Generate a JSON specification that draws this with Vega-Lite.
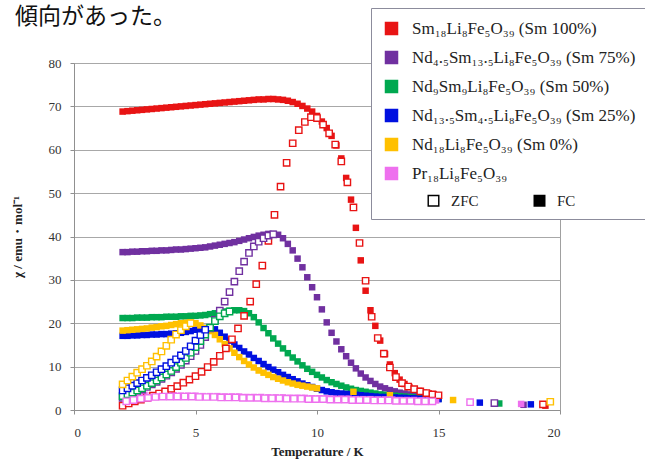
{
"$schema":"https://vega.github.io/schema/vega-lite/v6.json",
"width":486,"height":347,
"autosize":{"type":"none"},
"padding":{"left":74,"top":63,"right":85,"bottom":58},
"background":"white",
"title":{"text":"傾向があった。","font":"Noto Sans CJK JP","fontSize":23,"fontWeight":"normal","color":"#111","anchor":"start","frame":"group","dx":-59,"offset":20,"dy":41},
"config":{"view":{"stroke":"#a0a0a0"},"axis":{"labelFont":"Liberation Serif","labelFontSize":13,"labelColor":"#333","titleFont":"Liberation Serif","titleFontWeight":"bold","titleColor":"#222","domainColor":"#909090","tickColor":"#909090","tickSize":4}},
"data":{"values":[
{"s":"A","m":"ZFC","t":2,"v":1.0},{"s":"A","m":"ZFC","t":2.25,"v":1.5},{"s":"A","m":"ZFC","t":2.5,"v":2.0},{"s":"A","m":"ZFC","t":2.75,"v":2.4},{"s":"A","m":"ZFC","t":3,"v":2.8},{"s":"A","m":"ZFC","t":3.25,"v":3.3},{"s":"A","m":"ZFC","t":3.5,"v":3.8},{"s":"A","m":"ZFC","t":3.75,"v":4.3},{"s":"A","m":"ZFC","t":4,"v":4.9},{"s":"A","m":"ZFC","t":4.25,"v":5.5},{"s":"A","m":"ZFC","t":4.5,"v":6.3},{"s":"A","m":"ZFC","t":4.75,"v":7.0},{"s":"A","m":"ZFC","t":5,"v":7.8},{"s":"A","m":"ZFC","t":5.25,"v":8.8},{"s":"A","m":"ZFC","t":5.5,"v":9.9},{"s":"A","m":"ZFC","t":5.75,"v":11.1},{"s":"A","m":"ZFC","t":6,"v":12.5},{"s":"A","m":"ZFC","t":6.25,"v":14.2},{"s":"A","m":"ZFC","t":6.5,"v":16.3},{"s":"A","m":"ZFC","t":6.75,"v":18.8},{"s":"A","m":"ZFC","t":7,"v":21.7},{"s":"A","m":"ZFC","t":7.25,"v":25.0},{"s":"A","m":"ZFC","t":7.5,"v":29.0},{"s":"A","m":"ZFC","t":7.75,"v":33.3},{"s":"A","m":"ZFC","t":8,"v":39.0},{"s":"A","m":"ZFC","t":8.25,"v":45.0},{"s":"A","m":"ZFC","t":8.5,"v":51.5},{"s":"A","m":"ZFC","t":8.75,"v":57.0},{"s":"A","m":"ZFC","t":9,"v":61.5},{"s":"A","m":"ZFC","t":9.25,"v":64.5},{"s":"A","m":"ZFC","t":9.5,"v":66.4},{"s":"A","m":"ZFC","t":9.75,"v":67.5},{"s":"A","m":"ZFC","t":10,"v":67.3},{"s":"A","m":"ZFC","t":10.25,"v":65.8},{"s":"A","m":"ZFC","t":10.5,"v":63.8},{"s":"A","m":"ZFC","t":10.75,"v":61.2},{"s":"A","m":"ZFC","t":11,"v":57.3},{"s":"A","m":"ZFC","t":11.25,"v":52.5},{"s":"A","m":"ZFC","t":11.5,"v":46.7},{"s":"A","m":"ZFC","t":11.75,"v":38.5},{"s":"A","m":"ZFC","t":12,"v":29.8},{"s":"A","m":"ZFC","t":12.25,"v":21.5},{"s":"A","m":"ZFC","t":12.5,"v":16.6},{"s":"A","m":"ZFC","t":12.75,"v":13.0},{"s":"A","m":"ZFC","t":13,"v":9.8},{"s":"A","m":"ZFC","t":13.25,"v":7.6},{"s":"A","m":"ZFC","t":13.5,"v":6.2},{"s":"A","m":"ZFC","t":13.75,"v":5.4},{"s":"A","m":"ZFC","t":14,"v":4.8},{"s":"A","m":"ZFC","t":14.25,"v":4.3},{"s":"A","m":"ZFC","t":14.5,"v":3.9},{"s":"A","m":"ZFC","t":14.75,"v":3.6},{"s":"A","m":"ZFC","t":15,"v":3.4},{"s":"A","m":"ZFC","t":19.3,"v":1.3},
{"s":"A","m":"FC","t":2,"v":68.8},{"s":"A","m":"FC","t":2.2,"v":68.9},{"s":"A","m":"FC","t":2.4,"v":69.0},{"s":"A","m":"FC","t":2.6,"v":69.1},{"s":"A","m":"FC","t":2.8,"v":69.2},{"s":"A","m":"FC","t":3,"v":69.3},{"s":"A","m":"FC","t":3.2,"v":69.4},{"s":"A","m":"FC","t":3.4,"v":69.5},{"s":"A","m":"FC","t":3.6,"v":69.6},{"s":"A","m":"FC","t":3.8,"v":69.7},{"s":"A","m":"FC","t":4,"v":69.8},{"s":"A","m":"FC","t":4.2,"v":69.9},{"s":"A","m":"FC","t":4.4,"v":70.0},{"s":"A","m":"FC","t":4.6,"v":70.1},{"s":"A","m":"FC","t":4.8,"v":70.2},{"s":"A","m":"FC","t":5,"v":70.3},{"s":"A","m":"FC","t":5.2,"v":70.4},{"s":"A","m":"FC","t":5.4,"v":70.5},{"s":"A","m":"FC","t":5.6,"v":70.6},{"s":"A","m":"FC","t":5.8,"v":70.7},{"s":"A","m":"FC","t":6,"v":70.8},{"s":"A","m":"FC","t":6.2,"v":70.9},{"s":"A","m":"FC","t":6.4,"v":71.0},{"s":"A","m":"FC","t":6.6,"v":71.1},{"s":"A","m":"FC","t":6.8,"v":71.2},{"s":"A","m":"FC","t":7,"v":71.3},{"s":"A","m":"FC","t":7.2,"v":71.4},{"s":"A","m":"FC","t":7.4,"v":71.5},{"s":"A","m":"FC","t":7.6,"v":71.6},{"s":"A","m":"FC","t":7.8,"v":71.6},{"s":"A","m":"FC","t":8,"v":71.7},{"s":"A","m":"FC","t":8.2,"v":71.7},{"s":"A","m":"FC","t":8.4,"v":71.6},{"s":"A","m":"FC","t":8.6,"v":71.5},{"s":"A","m":"FC","t":8.8,"v":71.3},{"s":"A","m":"FC","t":9,"v":71.0},{"s":"A","m":"FC","t":9.2,"v":70.6},{"s":"A","m":"FC","t":9.4,"v":70.1},{"s":"A","m":"FC","t":9.6,"v":69.5},{"s":"A","m":"FC","t":9.8,"v":68.8},{"s":"A","m":"FC","t":10,"v":67.8},{"s":"A","m":"FC","t":10.2,"v":66.5},{"s":"A","m":"FC","t":10.4,"v":65.0},{"s":"A","m":"FC","t":10.6,"v":63.2},{"s":"A","m":"FC","t":10.8,"v":61.0},{"s":"A","m":"FC","t":11,"v":58.0},{"s":"A","m":"FC","t":11.2,"v":53.5},{"s":"A","m":"FC","t":11.4,"v":48.5},{"s":"A","m":"FC","t":11.6,"v":42.0},{"s":"A","m":"FC","t":11.8,"v":34.5},{"s":"A","m":"FC","t":12,"v":27.5},{"s":"A","m":"FC","t":12.2,"v":23.0},{"s":"A","m":"FC","t":12.4,"v":19.4},{"s":"A","m":"FC","t":12.6,"v":16.0},{"s":"A","m":"FC","t":12.8,"v":12.9},{"s":"A","m":"FC","t":13,"v":10.5},{"s":"A","m":"FC","t":13.2,"v":8.5},{"s":"A","m":"FC","t":13.4,"v":7.0},{"s":"A","m":"FC","t":13.6,"v":6.0},{"s":"A","m":"FC","t":13.8,"v":5.3},{"s":"A","m":"FC","t":14,"v":4.8},{"s":"A","m":"FC","t":14.2,"v":4.4},{"s":"A","m":"FC","t":14.4,"v":4.0},{"s":"A","m":"FC","t":14.6,"v":3.8},{"s":"A","m":"FC","t":14.8,"v":3.6},{"s":"A","m":"FC","t":15,"v":3.4},{"s":"A","m":"FC","t":19.4,"v":1.0},
{"s":"B","m":"ZFC","t":2,"v":2.8},{"s":"B","m":"ZFC","t":2.2,"v":3.2},{"s":"B","m":"ZFC","t":2.4,"v":3.7},{"s":"B","m":"ZFC","t":2.6,"v":4.2},{"s":"B","m":"ZFC","t":2.8,"v":4.7},{"s":"B","m":"ZFC","t":3,"v":5.3},{"s":"B","m":"ZFC","t":3.2,"v":5.9},{"s":"B","m":"ZFC","t":3.4,"v":6.5},{"s":"B","m":"ZFC","t":3.6,"v":7.2},{"s":"B","m":"ZFC","t":3.8,"v":7.9},{"s":"B","m":"ZFC","t":4,"v":8.7},{"s":"B","m":"ZFC","t":4.2,"v":9.5},{"s":"B","m":"ZFC","t":4.4,"v":10.4},{"s":"B","m":"ZFC","t":4.6,"v":11.4},{"s":"B","m":"ZFC","t":4.8,"v":12.4},{"s":"B","m":"ZFC","t":5,"v":13.6},{"s":"B","m":"ZFC","t":5.2,"v":15.0},{"s":"B","m":"ZFC","t":5.4,"v":16.8},{"s":"B","m":"ZFC","t":5.6,"v":18.8},{"s":"B","m":"ZFC","t":5.8,"v":20.8},{"s":"B","m":"ZFC","t":6,"v":22.9},{"s":"B","m":"ZFC","t":6.2,"v":25.0},{"s":"B","m":"ZFC","t":6.4,"v":27.2},{"s":"B","m":"ZFC","t":6.6,"v":29.6},{"s":"B","m":"ZFC","t":6.8,"v":32.0},{"s":"B","m":"ZFC","t":7,"v":34.2},{"s":"B","m":"ZFC","t":7.2,"v":36.2},{"s":"B","m":"ZFC","t":7.4,"v":37.7},{"s":"B","m":"ZFC","t":7.6,"v":38.8},{"s":"B","m":"ZFC","t":7.8,"v":39.6},{"s":"B","m":"ZFC","t":8,"v":40.2},{"s":"B","m":"ZFC","t":8.2,"v":40.5},{"s":"B","m":"ZFC","t":17.3,"v":1.6},
{"s":"B","m":"FC","t":2,"v":36.4},{"s":"B","m":"FC","t":2.2,"v":36.4},{"s":"B","m":"FC","t":2.4,"v":36.5},{"s":"B","m":"FC","t":2.6,"v":36.5},{"s":"B","m":"FC","t":2.8,"v":36.6},{"s":"B","m":"FC","t":3,"v":36.6},{"s":"B","m":"FC","t":3.2,"v":36.7},{"s":"B","m":"FC","t":3.4,"v":36.7},{"s":"B","m":"FC","t":3.6,"v":36.8},{"s":"B","m":"FC","t":3.8,"v":36.8},{"s":"B","m":"FC","t":4,"v":36.9},{"s":"B","m":"FC","t":4.2,"v":37.0},{"s":"B","m":"FC","t":4.4,"v":37.0},{"s":"B","m":"FC","t":4.6,"v":37.1},{"s":"B","m":"FC","t":4.8,"v":37.2},{"s":"B","m":"FC","t":5,"v":37.3},{"s":"B","m":"FC","t":5.2,"v":37.4},{"s":"B","m":"FC","t":5.4,"v":37.5},{"s":"B","m":"FC","t":5.6,"v":37.7},{"s":"B","m":"FC","t":5.8,"v":37.9},{"s":"B","m":"FC","t":6,"v":38.1},{"s":"B","m":"FC","t":6.2,"v":38.3},{"s":"B","m":"FC","t":6.4,"v":38.5},{"s":"B","m":"FC","t":6.6,"v":38.7},{"s":"B","m":"FC","t":6.8,"v":39.0},{"s":"B","m":"FC","t":7,"v":39.3},{"s":"B","m":"FC","t":7.2,"v":39.6},{"s":"B","m":"FC","t":7.4,"v":39.9},{"s":"B","m":"FC","t":7.6,"v":40.2},{"s":"B","m":"FC","t":7.8,"v":40.4},{"s":"B","m":"FC","t":8,"v":40.6},{"s":"B","m":"FC","t":8.2,"v":40.6},{"s":"B","m":"FC","t":8.4,"v":40.4},{"s":"B","m":"FC","t":8.6,"v":39.6},{"s":"B","m":"FC","t":8.8,"v":38.3},{"s":"B","m":"FC","t":9,"v":36.8},{"s":"B","m":"FC","t":9.2,"v":34.9},{"s":"B","m":"FC","t":9.4,"v":32.9},{"s":"B","m":"FC","t":9.6,"v":30.6},{"s":"B","m":"FC","t":9.8,"v":28.3},{"s":"B","m":"FC","t":10,"v":26.0},{"s":"B","m":"FC","t":10.2,"v":23.2},{"s":"B","m":"FC","t":10.4,"v":20.2},{"s":"B","m":"FC","t":10.6,"v":17.8},{"s":"B","m":"FC","t":10.8,"v":15.8},{"s":"B","m":"FC","t":11,"v":14.0},{"s":"B","m":"FC","t":11.2,"v":12.4},{"s":"B","m":"FC","t":11.4,"v":10.9},{"s":"B","m":"FC","t":11.6,"v":9.6},{"s":"B","m":"FC","t":11.8,"v":8.4},{"s":"B","m":"FC","t":12,"v":7.5},{"s":"B","m":"FC","t":12.2,"v":6.7},{"s":"B","m":"FC","t":12.4,"v":6.0},{"s":"B","m":"FC","t":12.6,"v":5.4},{"s":"B","m":"FC","t":12.8,"v":5.0},{"s":"B","m":"FC","t":13,"v":4.6},{"s":"B","m":"FC","t":13.2,"v":4.3},{"s":"B","m":"FC","t":13.4,"v":4.0},{"s":"B","m":"FC","t":13.6,"v":3.8},{"s":"B","m":"FC","t":13.8,"v":3.6},{"s":"B","m":"FC","t":14,"v":3.4},{"s":"B","m":"FC","t":14.2,"v":3.3},{"s":"B","m":"FC","t":14.4,"v":3.2},{"s":"B","m":"FC","t":14.6,"v":3.1},{"s":"B","m":"FC","t":14.8,"v":3.0},{"s":"B","m":"FC","t":15,"v":2.9},{"s":"B","m":"FC","t":18.5,"v":1.2},
{"s":"C","m":"ZFC","t":2,"v":3.2},{"s":"C","m":"ZFC","t":2.2,"v":3.6},{"s":"C","m":"ZFC","t":2.4,"v":4.0},{"s":"C","m":"ZFC","t":2.6,"v":4.5},{"s":"C","m":"ZFC","t":2.8,"v":5.0},{"s":"C","m":"ZFC","t":3,"v":5.6},{"s":"C","m":"ZFC","t":3.2,"v":6.2},{"s":"C","m":"ZFC","t":3.4,"v":6.8},{"s":"C","m":"ZFC","t":3.6,"v":7.5},{"s":"C","m":"ZFC","t":3.8,"v":8.2},{"s":"C","m":"ZFC","t":4,"v":9.0},{"s":"C","m":"ZFC","t":4.2,"v":9.9},{"s":"C","m":"ZFC","t":4.4,"v":10.9},{"s":"C","m":"ZFC","t":4.6,"v":12.0},{"s":"C","m":"ZFC","t":4.8,"v":13.2},{"s":"C","m":"ZFC","t":5,"v":14.5},{"s":"C","m":"ZFC","t":5.2,"v":15.9},{"s":"C","m":"ZFC","t":5.4,"v":17.4},{"s":"C","m":"ZFC","t":5.6,"v":19.0},{"s":"C","m":"ZFC","t":5.8,"v":20.5},{"s":"C","m":"ZFC","t":6,"v":21.6},{"s":"C","m":"ZFC","t":6.2,"v":22.3},{"s":"C","m":"ZFC","t":6.4,"v":22.7},
{"s":"C","m":"FC","t":2,"v":21.2},{"s":"C","m":"FC","t":2.2,"v":21.2},{"s":"C","m":"FC","t":2.4,"v":21.2},{"s":"C","m":"FC","t":2.6,"v":21.3},{"s":"C","m":"FC","t":2.8,"v":21.3},{"s":"C","m":"FC","t":3,"v":21.3},{"s":"C","m":"FC","t":3.2,"v":21.4},{"s":"C","m":"FC","t":3.4,"v":21.4},{"s":"C","m":"FC","t":3.6,"v":21.4},{"s":"C","m":"FC","t":3.8,"v":21.5},{"s":"C","m":"FC","t":4,"v":21.5},{"s":"C","m":"FC","t":4.2,"v":21.5},{"s":"C","m":"FC","t":4.4,"v":21.6},{"s":"C","m":"FC","t":4.6,"v":21.6},{"s":"C","m":"FC","t":4.8,"v":21.7},{"s":"C","m":"FC","t":5,"v":21.7},{"s":"C","m":"FC","t":5.2,"v":21.8},{"s":"C","m":"FC","t":5.4,"v":21.9},{"s":"C","m":"FC","t":5.6,"v":22.1},{"s":"C","m":"FC","t":5.8,"v":22.3},{"s":"C","m":"FC","t":6,"v":22.5},{"s":"C","m":"FC","t":6.2,"v":22.7},{"s":"C","m":"FC","t":6.4,"v":22.9},{"s":"C","m":"FC","t":6.6,"v":23.0},{"s":"C","m":"FC","t":6.8,"v":23.0},{"s":"C","m":"FC","t":7,"v":22.8},{"s":"C","m":"FC","t":7.2,"v":22.3},{"s":"C","m":"FC","t":7.4,"v":21.4},{"s":"C","m":"FC","t":7.6,"v":20.2},{"s":"C","m":"FC","t":7.8,"v":18.9},{"s":"C","m":"FC","t":8,"v":17.7},{"s":"C","m":"FC","t":8.2,"v":16.5},{"s":"C","m":"FC","t":8.4,"v":15.3},{"s":"C","m":"FC","t":8.6,"v":14.2},{"s":"C","m":"FC","t":8.8,"v":13.1},{"s":"C","m":"FC","t":9,"v":12.1},{"s":"C","m":"FC","t":9.2,"v":11.2},{"s":"C","m":"FC","t":9.4,"v":10.3},{"s":"C","m":"FC","t":9.6,"v":9.5},{"s":"C","m":"FC","t":9.8,"v":8.8},{"s":"C","m":"FC","t":10,"v":8.1},{"s":"C","m":"FC","t":10.2,"v":7.5},{"s":"C","m":"FC","t":10.4,"v":6.9},{"s":"C","m":"FC","t":10.6,"v":6.4},{"s":"C","m":"FC","t":10.8,"v":6.0},{"s":"C","m":"FC","t":11,"v":5.6},{"s":"C","m":"FC","t":11.2,"v":5.2},{"s":"C","m":"FC","t":11.4,"v":4.9},{"s":"C","m":"FC","t":11.6,"v":4.6},{"s":"C","m":"FC","t":11.8,"v":4.4},{"s":"C","m":"FC","t":12,"v":4.2},{"s":"C","m":"FC","t":12.2,"v":4.0},{"s":"C","m":"FC","t":12.4,"v":3.8},{"s":"C","m":"FC","t":12.6,"v":3.6},{"s":"C","m":"FC","t":12.8,"v":3.5},{"s":"C","m":"FC","t":13,"v":3.4},{"s":"C","m":"FC","t":13.2,"v":3.3},{"s":"C","m":"FC","t":13.4,"v":3.2},{"s":"C","m":"FC","t":13.6,"v":3.1},{"s":"C","m":"FC","t":13.8,"v":3.0},{"s":"C","m":"FC","t":14,"v":2.9},{"s":"C","m":"FC","t":14.2,"v":2.8},{"s":"C","m":"FC","t":14.4,"v":2.8},{"s":"C","m":"FC","t":14.6,"v":2.7},{"s":"C","m":"FC","t":14.8,"v":2.7},{"s":"C","m":"FC","t":15,"v":2.6},{"s":"C","m":"FC","t":17.5,"v":1.5},
{"s":"D","m":"ZFC","t":2,"v":4.5},{"s":"D","m":"ZFC","t":2.2,"v":5.0},{"s":"D","m":"ZFC","t":2.4,"v":5.6},{"s":"D","m":"ZFC","t":2.6,"v":6.2},{"s":"D","m":"ZFC","t":2.8,"v":6.8},{"s":"D","m":"ZFC","t":3,"v":7.4},{"s":"D","m":"ZFC","t":3.2,"v":8.0},{"s":"D","m":"ZFC","t":3.4,"v":8.7},{"s":"D","m":"ZFC","t":3.6,"v":9.4},{"s":"D","m":"ZFC","t":3.8,"v":10.1},{"s":"D","m":"ZFC","t":4,"v":10.9},{"s":"D","m":"ZFC","t":4.2,"v":11.7},{"s":"D","m":"ZFC","t":4.4,"v":12.6},{"s":"D","m":"ZFC","t":4.6,"v":13.6},{"s":"D","m":"ZFC","t":4.8,"v":14.7},{"s":"D","m":"ZFC","t":5,"v":16.0},{"s":"D","m":"ZFC","t":5.2,"v":17.3},{"s":"D","m":"ZFC","t":5.4,"v":18.5},
{"s":"D","m":"FC","t":2,"v":17.1},{"s":"D","m":"FC","t":2.2,"v":17.1},{"s":"D","m":"FC","t":2.4,"v":17.2},{"s":"D","m":"FC","t":2.6,"v":17.2},{"s":"D","m":"FC","t":2.8,"v":17.3},{"s":"D","m":"FC","t":3,"v":17.3},{"s":"D","m":"FC","t":3.2,"v":17.4},{"s":"D","m":"FC","t":3.4,"v":17.4},{"s":"D","m":"FC","t":3.6,"v":17.5},{"s":"D","m":"FC","t":3.8,"v":17.5},{"s":"D","m":"FC","t":4,"v":17.6},{"s":"D","m":"FC","t":4.2,"v":17.7},{"s":"D","m":"FC","t":4.4,"v":17.8},{"s":"D","m":"FC","t":4.6,"v":18.0},{"s":"D","m":"FC","t":4.8,"v":18.2},{"s":"D","m":"FC","t":5,"v":18.5},{"s":"D","m":"FC","t":5.2,"v":18.7},{"s":"D","m":"FC","t":5.4,"v":18.9},{"s":"D","m":"FC","t":5.6,"v":19.0},{"s":"D","m":"FC","t":5.8,"v":18.6},{"s":"D","m":"FC","t":6,"v":17.8},{"s":"D","m":"FC","t":6.2,"v":16.9},{"s":"D","m":"FC","t":6.4,"v":16.0},{"s":"D","m":"FC","t":6.6,"v":15.1},{"s":"D","m":"FC","t":6.8,"v":14.3},{"s":"D","m":"FC","t":7,"v":13.5},{"s":"D","m":"FC","t":7.2,"v":12.8},{"s":"D","m":"FC","t":7.4,"v":12.0},{"s":"D","m":"FC","t":7.6,"v":11.3},{"s":"D","m":"FC","t":7.8,"v":10.6},{"s":"D","m":"FC","t":8,"v":9.9},{"s":"D","m":"FC","t":8.2,"v":9.3},{"s":"D","m":"FC","t":8.4,"v":8.7},{"s":"D","m":"FC","t":8.6,"v":8.1},{"s":"D","m":"FC","t":8.8,"v":7.6},{"s":"D","m":"FC","t":9,"v":7.1},{"s":"D","m":"FC","t":9.2,"v":6.6},{"s":"D","m":"FC","t":9.4,"v":6.1},{"s":"D","m":"FC","t":9.6,"v":5.7},{"s":"D","m":"FC","t":9.8,"v":5.3},{"s":"D","m":"FC","t":10,"v":4.9},{"s":"D","m":"FC","t":10.2,"v":4.6},{"s":"D","m":"FC","t":10.4,"v":4.3},{"s":"D","m":"FC","t":10.6,"v":4.1},{"s":"D","m":"FC","t":10.8,"v":3.9},{"s":"D","m":"FC","t":11,"v":3.8},{"s":"D","m":"FC","t":11.2,"v":3.7},{"s":"D","m":"FC","t":11.4,"v":3.6},{"s":"D","m":"FC","t":11.6,"v":3.5},{"s":"D","m":"FC","t":11.8,"v":3.4},{"s":"D","m":"FC","t":12,"v":3.3},{"s":"D","m":"FC","t":12.2,"v":3.2},{"s":"D","m":"FC","t":12.4,"v":3.1},{"s":"D","m":"FC","t":12.6,"v":3.0},{"s":"D","m":"FC","t":12.8,"v":3.0},{"s":"D","m":"FC","t":13,"v":2.9},{"s":"D","m":"FC","t":13.2,"v":2.9},{"s":"D","m":"FC","t":13.4,"v":2.8},{"s":"D","m":"FC","t":13.6,"v":2.8},{"s":"D","m":"FC","t":13.8,"v":2.7},{"s":"D","m":"FC","t":14,"v":2.7},{"s":"D","m":"FC","t":14.2,"v":2.6},{"s":"D","m":"FC","t":14.4,"v":2.6},{"s":"D","m":"FC","t":14.6,"v":2.6},{"s":"D","m":"FC","t":14.8,"v":2.5},{"s":"D","m":"FC","t":15,"v":2.5},{"s":"D","m":"FC","t":16.7,"v":1.7},{"s":"D","m":"FC","t":18.8,"v":1.3},
{"s":"E","m":"ZFC","t":2,"v":5.9},{"s":"E","m":"ZFC","t":2.2,"v":6.8},{"s":"E","m":"ZFC","t":2.4,"v":7.7},{"s":"E","m":"ZFC","t":2.6,"v":8.6},{"s":"E","m":"ZFC","t":2.8,"v":9.4},{"s":"E","m":"ZFC","t":3,"v":10.2},{"s":"E","m":"ZFC","t":3.2,"v":11.2},{"s":"E","m":"ZFC","t":3.4,"v":12.3},{"s":"E","m":"ZFC","t":3.6,"v":13.5},{"s":"E","m":"ZFC","t":3.8,"v":14.8},{"s":"E","m":"ZFC","t":4,"v":16.2},{"s":"E","m":"ZFC","t":4.2,"v":17.4},{"s":"E","m":"ZFC","t":4.4,"v":18.4},{"s":"E","m":"ZFC","t":4.6,"v":19.3},{"s":"E","m":"ZFC","t":4.8,"v":20.0},{"s":"E","m":"ZFC","t":19.6,"v":1.9},
{"s":"E","m":"FC","t":2,"v":18.3},{"s":"E","m":"FC","t":2.2,"v":18.4},{"s":"E","m":"FC","t":2.4,"v":18.5},{"s":"E","m":"FC","t":2.6,"v":18.6},{"s":"E","m":"FC","t":2.8,"v":18.7},{"s":"E","m":"FC","t":3,"v":18.8},{"s":"E","m":"FC","t":3.2,"v":19.0},{"s":"E","m":"FC","t":3.4,"v":19.1},{"s":"E","m":"FC","t":3.6,"v":19.3},{"s":"E","m":"FC","t":3.8,"v":19.4},{"s":"E","m":"FC","t":4,"v":19.6},{"s":"E","m":"FC","t":4.2,"v":19.8},{"s":"E","m":"FC","t":4.4,"v":20.0},{"s":"E","m":"FC","t":4.6,"v":20.1},{"s":"E","m":"FC","t":4.8,"v":20.2},{"s":"E","m":"FC","t":5,"v":20.0},{"s":"E","m":"FC","t":5.2,"v":19.5},{"s":"E","m":"FC","t":5.4,"v":18.9},{"s":"E","m":"FC","t":5.6,"v":18.2},{"s":"E","m":"FC","t":5.8,"v":17.3},{"s":"E","m":"FC","t":6,"v":16.3},{"s":"E","m":"FC","t":6.2,"v":15.2},{"s":"E","m":"FC","t":6.4,"v":14.2},{"s":"E","m":"FC","t":6.6,"v":13.2},{"s":"E","m":"FC","t":6.8,"v":12.2},{"s":"E","m":"FC","t":7,"v":11.3},{"s":"E","m":"FC","t":7.2,"v":10.5},{"s":"E","m":"FC","t":7.4,"v":9.8},{"s":"E","m":"FC","t":7.6,"v":9.1},{"s":"E","m":"FC","t":7.8,"v":8.6},{"s":"E","m":"FC","t":8,"v":8.1},{"s":"E","m":"FC","t":8.2,"v":7.6},{"s":"E","m":"FC","t":8.4,"v":7.2},{"s":"E","m":"FC","t":8.6,"v":6.8},{"s":"E","m":"FC","t":8.8,"v":6.4},{"s":"E","m":"FC","t":9,"v":6.1},{"s":"E","m":"FC","t":9.2,"v":5.8},{"s":"E","m":"FC","t":9.4,"v":5.6},{"s":"E","m":"FC","t":9.6,"v":5.4},{"s":"E","m":"FC","t":9.8,"v":5.2},{"s":"E","m":"FC","t":10,"v":5.0},{"s":"E","m":"FC","t":11.5,"v":4.2},{"s":"E","m":"FC","t":13,"v":3.4},{"s":"E","m":"FC","t":15.6,"v":2.3},
{"s":"F","m":"ZFC","t":2.15,"v":2.0},{"s":"F","m":"ZFC","t":2.45,"v":2.3},{"s":"F","m":"ZFC","t":2.75,"v":2.6},{"s":"F","m":"ZFC","t":3.05,"v":2.8},{"s":"F","m":"ZFC","t":3.35,"v":3.0},{"s":"F","m":"ZFC","t":3.65,"v":3.1},{"s":"F","m":"ZFC","t":3.95,"v":3.1},{"s":"F","m":"ZFC","t":4.25,"v":3.1},{"s":"F","m":"ZFC","t":4.55,"v":3.1},{"s":"F","m":"ZFC","t":4.85,"v":3.1},{"s":"F","m":"ZFC","t":5.15,"v":3.0},{"s":"F","m":"ZFC","t":5.45,"v":3.0},{"s":"F","m":"ZFC","t":5.75,"v":3.0},{"s":"F","m":"ZFC","t":6.05,"v":2.9},{"s":"F","m":"ZFC","t":6.35,"v":2.9},{"s":"F","m":"ZFC","t":6.65,"v":2.9},{"s":"F","m":"ZFC","t":6.95,"v":2.8},{"s":"F","m":"ZFC","t":7.25,"v":2.8},{"s":"F","m":"ZFC","t":7.55,"v":2.8},{"s":"F","m":"ZFC","t":7.85,"v":2.7},{"s":"F","m":"ZFC","t":8.15,"v":2.7},{"s":"F","m":"ZFC","t":8.45,"v":2.7},{"s":"F","m":"ZFC","t":8.75,"v":2.6},{"s":"F","m":"ZFC","t":9.05,"v":2.6},{"s":"F","m":"ZFC","t":9.35,"v":2.6},{"s":"F","m":"ZFC","t":9.65,"v":2.5},{"s":"F","m":"ZFC","t":9.95,"v":2.5},{"s":"F","m":"ZFC","t":10.25,"v":2.5},{"s":"F","m":"ZFC","t":10.55,"v":2.4},{"s":"F","m":"ZFC","t":10.85,"v":2.4},{"s":"F","m":"ZFC","t":11.15,"v":2.4},{"s":"F","m":"ZFC","t":11.45,"v":2.3},{"s":"F","m":"ZFC","t":11.75,"v":2.3},{"s":"F","m":"ZFC","t":12.05,"v":2.3},{"s":"F","m":"ZFC","t":12.35,"v":2.2},{"s":"F","m":"ZFC","t":12.65,"v":2.2},{"s":"F","m":"ZFC","t":12.95,"v":2.2},{"s":"F","m":"ZFC","t":13.25,"v":2.1},{"s":"F","m":"ZFC","t":13.55,"v":2.1},{"s":"F","m":"ZFC","t":13.85,"v":2.1},{"s":"F","m":"ZFC","t":14.15,"v":2.0},{"s":"F","m":"ZFC","t":14.45,"v":2.0},{"s":"F","m":"ZFC","t":14.75,"v":2.0},{"s":"F","m":"ZFC","t":16.3,"v":1.8},
{"s":"F","m":"FC","t":2,"v":3.5},{"s":"F","m":"FC","t":2.3,"v":3.5},{"s":"F","m":"FC","t":2.6,"v":3.5},{"s":"F","m":"FC","t":2.9,"v":3.5},{"s":"F","m":"FC","t":3.2,"v":3.4},{"s":"F","m":"FC","t":3.5,"v":3.4},{"s":"F","m":"FC","t":3.8,"v":3.4},{"s":"F","m":"FC","t":4.1,"v":3.4},{"s":"F","m":"FC","t":4.4,"v":3.3},{"s":"F","m":"FC","t":4.7,"v":3.3},{"s":"F","m":"FC","t":5,"v":3.3},{"s":"F","m":"FC","t":5.3,"v":3.2},{"s":"F","m":"FC","t":5.6,"v":3.2},{"s":"F","m":"FC","t":5.9,"v":3.2},{"s":"F","m":"FC","t":6.2,"v":3.1},{"s":"F","m":"FC","t":6.5,"v":3.1},{"s":"F","m":"FC","t":6.8,"v":3.1},{"s":"F","m":"FC","t":7.1,"v":3.0},{"s":"F","m":"FC","t":7.4,"v":3.0},{"s":"F","m":"FC","t":7.7,"v":3.0},{"s":"F","m":"FC","t":8,"v":2.9},{"s":"F","m":"FC","t":8.3,"v":2.9},{"s":"F","m":"FC","t":8.6,"v":2.9},{"s":"F","m":"FC","t":8.9,"v":2.8},{"s":"F","m":"FC","t":9.2,"v":2.8},{"s":"F","m":"FC","t":9.5,"v":2.8},{"s":"F","m":"FC","t":9.8,"v":2.7},{"s":"F","m":"FC","t":10.1,"v":2.7},{"s":"F","m":"FC","t":10.4,"v":2.7},{"s":"F","m":"FC","t":10.7,"v":2.6},{"s":"F","m":"FC","t":11,"v":2.6},{"s":"F","m":"FC","t":11.3,"v":2.6},{"s":"F","m":"FC","t":11.6,"v":2.5},{"s":"F","m":"FC","t":11.9,"v":2.5},{"s":"F","m":"FC","t":12.2,"v":2.5},{"s":"F","m":"FC","t":12.5,"v":2.4},{"s":"F","m":"FC","t":12.8,"v":2.4},{"s":"F","m":"FC","t":13.1,"v":2.4},{"s":"F","m":"FC","t":13.4,"v":2.3},{"s":"F","m":"FC","t":13.7,"v":2.3},{"s":"F","m":"FC","t":14,"v":2.3},{"s":"F","m":"FC","t":14.3,"v":2.2},{"s":"F","m":"FC","t":14.6,"v":2.2},{"s":"F","m":"FC","t":14.9,"v":2.2},{"s":"F","m":"FC","t":18.4,"v":1.4}
]},
"encoding":{
"x":{"field":"t","type":"quantitative","scale":{"domain":[0,20]},"axis":{"values":[0,5,10,15,20],"grid":false,"labelPadding":12,"title":"Temperature / K","titleFontSize":13,"titlePadding":6}},
"y":{"field":"v","type":"quantitative","scale":{"domain":[0,80]},"axis":{"values":[0,10,20,30,40,50,60,70,80],"grid":true,"gridColor":"#a8a8a8","labelPadding":9,"title":"χ / emu・mol⁻¹","titleFontSize":13,"titlePadding":24}},
"color":{"field":"s","type":"nominal","scale":{"domain":["A","B","C","D","E","F"],"range":["#E81414","#7030A0","#00A850","#0010E0","#FFC000","#EE70EE"]},
 "legend":{"orient":"none","legendX":297,"legendY":-55,"title":" ","titleOrient":"bottom","titleFontSize":16,"titlePadding":8,"fillColor":"white","strokeColor":"#8c8c9c","padding":12,"symbolType":"square","symbolSize":144,"symbolOpacity":1,"rowPadding":10,"labelFont":"Liberation Serif","labelFontSize":17,"labelColor":"#222","labelLimit":400,"labelOffset":12,
 "labelExpr":"datum.value==='A'?'Sm₁₈Li₈Fe₅O₃₉ (Sm 100%)':datum.value==='B'?'Nd₄.₅Sm₁₃.₅Li₈Fe₅O₃₉ (Sm 75%)':datum.value==='C'?'Nd₉Sm₉Li₈Fe₅O₃₉ (Sm 50%)':datum.value==='D'?'Nd₁₃.₅Sm₄.₅Li₈Fe₅O₃₉ (Sm 25%)':datum.value==='E'?'Nd₁₈Li₈Fe₅O₃₉ (Sm 0%)':'Pr₁₈Li₈Fe₅O₃₉'",
 "encode":{"symbols":{"update":{"fill":{"scale":"color","field":"value"},"stroke":{"scale":"color","field":"value"},"opacity":{"value":1}}}}}}
},
"layer":[
{"transform":[{"filter":"datum.m==='FC'"}],"mark":{"type":"point","shape":"square","filled":true,"size":42,"opacity":1},
 "encoding":{"shape":{"field":"m","type":"nominal","scale":{"domain":["ZFC","FC"],"range":["M-1,-1H1V1H-1Z M-0.76,-0.76V0.76H0.76V-0.76Z","square"]},
 "legend":{"orient":"none","legendX":352,"legendY":130,"direction":"horizontal","title":null,"symbolSize":144,"symbolFillColor":"black","symbolStrokeWidth":0,"symbolOpacity":1,"labelFont":"Liberation Serif","labelFontSize":15,"labelColor":"#222","columnPadding":53,"labelOffset":10,"padding":0}}}},
{"transform":[{"filter":"datum.m==='ZFC'"}],"mark":{"type":"point","shape":"square","filled":false,"fill":"white","fillOpacity":1,"size":40,"strokeWidth":1.4,"opacity":1}}
]
}
